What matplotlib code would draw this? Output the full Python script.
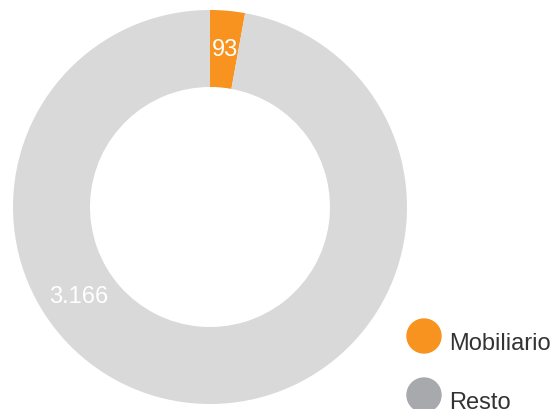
import numpy as np
import matplotlib.pyplot as plt
from matplotlib.patches import Ellipse

plt.rcParams['font.family'] = ['Liberation Sans', 'DejaVu Sans']

# Donut data
labels = ["Mobiliario", "Resto"]
values = [93, 3166]
value_text = ["93", "3.166"]
ring_colors = ["#F7931E", "#D9D9D9"]
legend_colors = ["#F7931E", "#A8A9AD"]

W, H = 558, 410
fig = plt.figure(figsize=(W / 100, H / 100), dpi=100)

# axes placed so the ring spans pixel x 13..407, y 11..405
cx, cy, r = 210, 208, 197
ax = fig.add_axes([(cx - r) / W, (H - cy - r) / H, 2 * r / W, 2 * r / H])

inner = 120 / r
ax.pie(values, colors=ring_colors, startangle=90, counterclock=False,
       radius=1, wedgeprops=dict(width=1 - inner, linewidth=0))
ax.set_xlim(-1, 1)
ax.set_ylim(-1, 1)
ax.set_aspect("equal")
ax.axis("off")

# value labels in the middle of the ring
mid_r = (1 + inner) / 2
label_angles = [5.4, 236]  # degrees clockwise from top
for txt, a in zip(value_text, label_angles):
    t = np.deg2rad(a)
    ax.text(mid_r * np.sin(t), mid_r * np.cos(t), txt, color="white",
            fontsize=17, ha="center", va="center")

# legend: colored dots with labels
for i, (lab, col) in enumerate(zip(labels, legend_colors)):
    y_px = 337 + i * 59
    fig.patches.append(Ellipse((424 / W, 1 - y_px / H), 34 / W, 34 / H,
                               transform=fig.transFigure, color=col))
    fig.text(449 / W, 1 - (y_px + 7) / H, lab, color="#333333",
             fontsize=17, ha="left", va="center")

fig.savefig("out.png", dpi=100)
